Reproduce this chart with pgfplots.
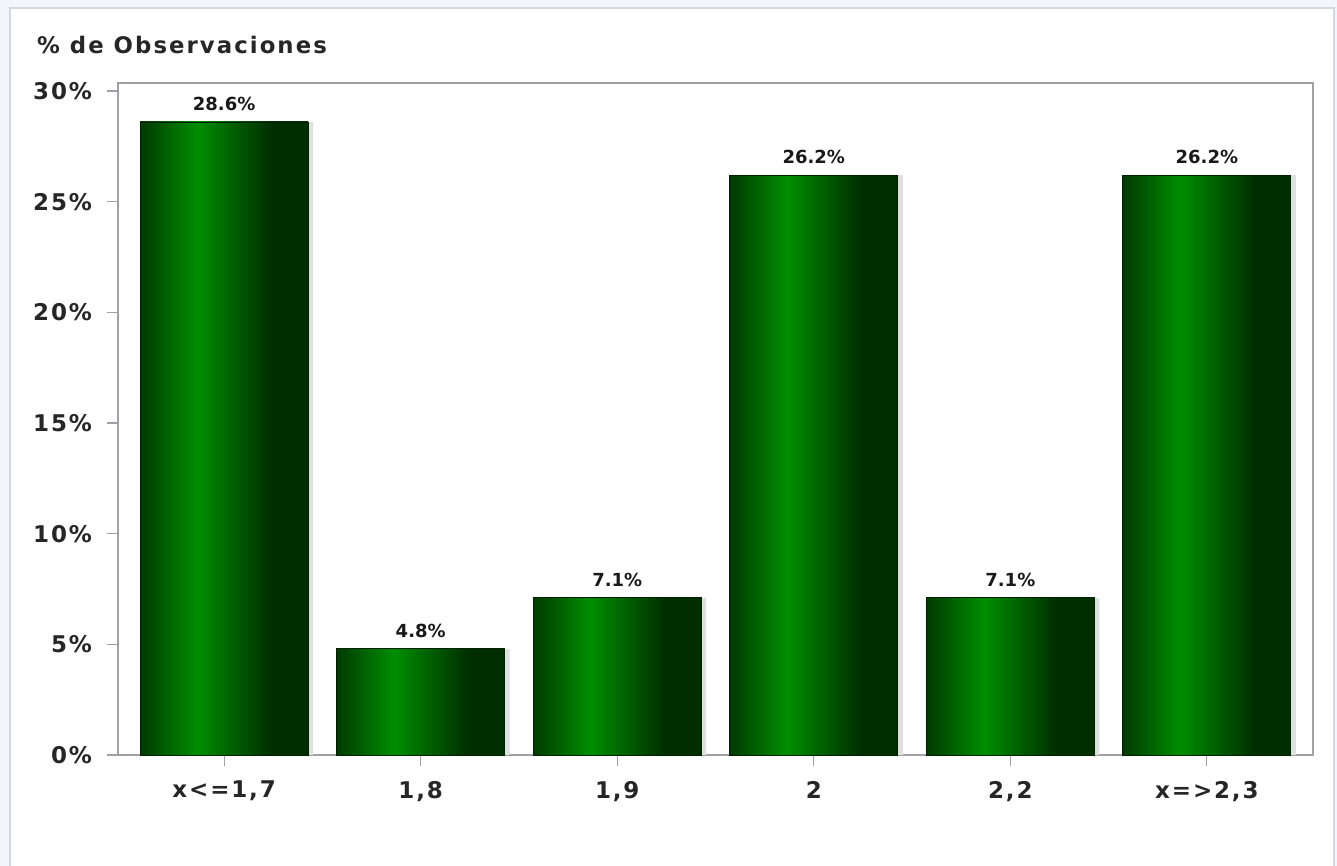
\documentclass[border=0pt]{standalone}
\usepackage{fontspec}
\setmainfont{DejaVu Sans}
\newfontfamily\titlefont[LetterSpace=9]{DejaVu Sans}
\newfontfamily\tickfont[LetterSpace=8]{DejaVu Sans}
\usepackage{pgfplots}
\pgfplotsset{compat=1.18}
\definecolor{gdark}{RGB}{0,58,0}
\definecolor{gbright}{RGB}{0,142,0}
\definecolor{gdarkest}{RGB}{0,46,0}
\definecolor{axgray}{RGB}{160,160,166}
\definecolor{bgout}{RGB}{243,245,250}
\definecolor{panelborder}{RGB}{212,216,224}
\pgfdeclarehorizontalshading{barshade}{100bp}{color(0bp)=(gdark); color(25bp)=(gdark); color(42bp)=(gbright); color(64bp)=(gdarkest); color(75bp)=(gdarkest); color(100bp)=(gdarkest)}
\pgfplotsset{
  shadowbar/.style={ybar, bar width=84pt, bar shift=2.5pt, fill=black!12, draw=none, forget plot},
  greenbar/.style={ybar, bar width=84pt, bar shift=0pt, shading=barshade, draw=gdarkest!70!black, line width=0.4pt,
    nodes near coords={\pgfmathprintnumber[fixed,precision=1]{\pgfplotspointmeta}\%},
    every node near coord/.append style={font=\bfseries\fontsize{9}{11}\selectfont, text=black!90, yshift=2pt},
    /pgf/number format/assume math mode=true, forget plot},
}
\begin{document}
\begin{tikzpicture}
\fill[bgout] (-59pt,-55.5pt) rectangle (609.5pt,377.5pt);
\fill[white,draw=panelborder,line width=0.8pt] (-54pt,-62pt) rectangle (608pt,373.5pt);
\begin{axis}[
  at={(0,0)}, anchor=south west,
  scale only axis,
  width=597.5pt, height=336pt,
  xmin=-0.54, xmax=5.54,
  ymin=0, ymax=30.36,
  ybar,
  axis line style={axgray, line width=0.6pt},
  tick style={axgray, line width=0.6pt},
  tick align=outside,
  tick pos=left,
  major tick length=5.5pt,
  xtick={0,1,2,3,4,5},
  xticklabels={{x<=1,7},{1,8},{1,9},{2},{2,2},{x=>2,3}},
  ytick={0,5,10,15,20,25,30},
  yticklabels={0\%,5\%,10\%,15\%,20\%,25\%,30\%},
  xticklabel style={font=\tickfont\bfseries\fontsize{11.5}{13}\selectfont, text=black!85, yshift=-4pt},
  yticklabel style={font=\tickfont\bfseries\fontsize{11.5}{13}\selectfont, text=black!85, xshift=-4pt},
  clip=false,
]
\addplot[shadowbar] coordinates {(0,28.6) (1,4.8) (2,7.1) (3,26.2) (4,7.1) (5,26.2)};
\addplot[greenbar] coordinates {(0,28.6)};
\addplot[greenbar] coordinates {(1,4.8)};
\addplot[greenbar] coordinates {(2,7.1)};
\addplot[greenbar] coordinates {(3,26.2)};
\addplot[greenbar] coordinates {(4,7.1)};
\addplot[greenbar] coordinates {(5,26.2)};
\node[anchor=base west, font=\titlefont\bfseries\fontsize{11.4}{13}\selectfont, text=black!85]
  at (rel axis cs:0,1) [xshift=-44pt, yshift=14.5pt] {\% de Observaciones};
\end{axis}
\pgfresetboundingbox
\path[use as bounding box] (-59pt,-55.5pt) rectangle (609.5pt,377.5pt);
\end{tikzpicture}
\end{document}
